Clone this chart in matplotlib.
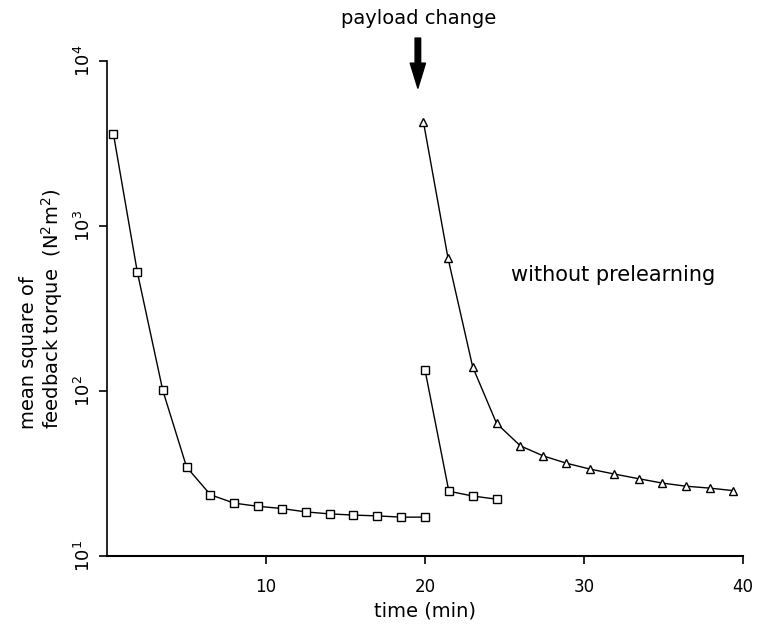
import matplotlib
matplotlib.use("Agg")
import matplotlib.pyplot as plt
from matplotlib.ticker import LogLocator, NullLocator

# first run: square markers, before the payload change
t_before = [0.4, 1.9, 3.5, 5.0, 6.5, 8.0, 9.5, 11.0, 12.5, 14.0, 15.5, 17.0, 18.5, 20.0]
torque_before = [3600, 526, 101, 34.6, 23.5, 20.9, 20.0, 19.4, 18.5, 18.0, 17.7, 17.5, 17.2, 17.2]

# after the payload change, with prelearning (squares)
t_pre = [20.0, 21.5, 23.0, 24.5]
torque_pre = [134, 24.7, 23.1, 22.1]

# after the payload change, without prelearning (triangles)
t_nopre = [19.9, 21.45, 23.0, 24.5, 26.0, 27.45, 28.9, 30.4, 31.9, 33.45,
           34.9, 36.4, 37.9, 39.4]
torque_nopre = [4285, 637, 140, 63.7, 46.5, 40.4, 36.5, 33.6, 31.4, 29.4,
                27.7, 26.5, 25.8, 24.9]

x_ticks = [10, 20, 30, 40]

plt.rcParams['font.family'] = ['DejaVu Sans']

fig = plt.figure(figsize=(7.82, 6.24), dpi=100)
ax = fig.add_axes([0.137, 0.109, 0.813, 0.793])

ax.plot(t_before, torque_before, color="black", lw=1.0, marker="s", ms=5.5,
        mfc="white", mec="black", mew=1.0)
ax.plot(t_pre, torque_pre, color="black", lw=1.0, marker="s", ms=5.5,
        mfc="white", mec="black", mew=1.0)
ax.plot(t_nopre, torque_nopre, color="black", lw=1.0, marker="^", ms=5.5,
        mfc="white", mec="black", mew=1.0)

ax.set_yscale("log")
ax.set_ylim(10, 1e4)
ax.set_xlim(0, 40)
ax.set_xticks(x_ticks)
ax.set_xticklabels([str(v) for v in x_ticks], fontsize=12)
ax.yaxis.set_major_locator(LogLocator(base=10, numticks=10))
ax.yaxis.set_minor_locator(NullLocator())
ax.tick_params(axis="y", labelsize=13, labelrotation=90, length=6, width=1.2)
ax.tick_params(axis="x", length=6, width=1.2, pad=10)
for lbl in ax.get_yticklabels():
    lbl.set_va("center")

ax.spines["top"].set_visible(False)
ax.spines["right"].set_visible(False)
ax.spines["left"].set_linewidth(1.2)
ax.spines["bottom"].set_linewidth(1.5)

ax.set_xlabel("time (min)", fontsize=14, labelpad=4)
fig.text(42 / 782, 1 - 429 / 624, "mean square of\nfeedback torque  (N$^2$m$^2$)",
         rotation=90, ha="center", va="bottom", multialignment="left",
         fontsize=14, linespacing=1.1)

ax.text(25.4, 505, "without prelearning", fontsize=15, va="center", ha="left")

ax.annotate("", xy=(19.55, 6860), xytext=(19.55, 13800),
            arrowprops=dict(facecolor="black", edgecolor="black", width=4,
                            headwidth=11, headlength=18, shrink=0),
            annotation_clip=False)
fig.text(419 / 782, 1 - 18 / 624, "payload change", fontsize=14,
         ha="center", va="center")

fig.savefig("out.png", dpi=100)
